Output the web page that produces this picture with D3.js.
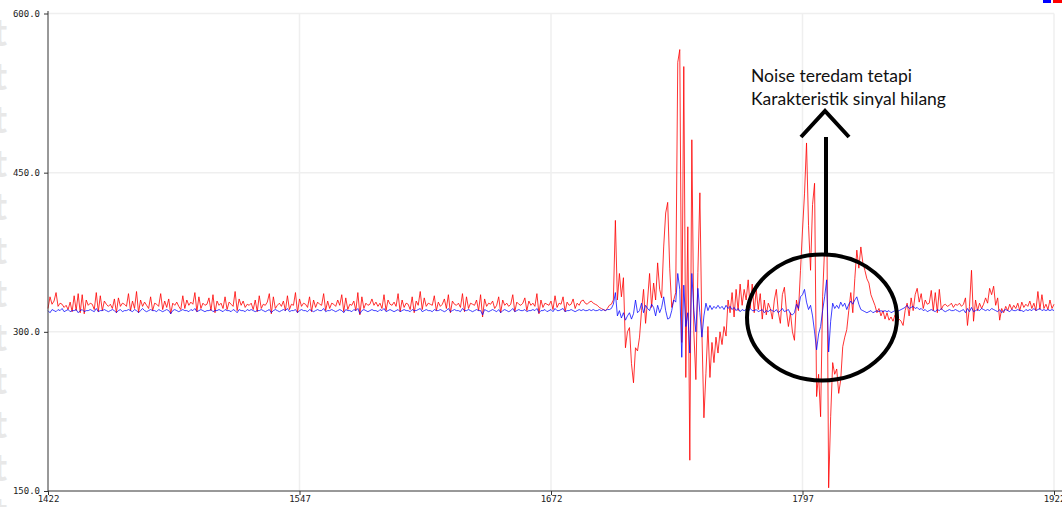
<!DOCTYPE html>
<html lang="en">
<head>
<meta charset="UTF-8">
<title>Serial Plotter - Noise teredam</title>
<script src="https://d3js.org/d3.v7.min.js"></script>
<style>
    body { margin: 0; background: #fff; }
    #chart { width: 1062px; height: 507px; overflow: hidden; }
    .tick-label { font-family: "DejaVu Sans Mono", "Liberation Mono", monospace; font-size: 9px; fill: #222; }
    .note { font-family: Lato, "Open Sans", sans-serif; font-size: 17.5px; fill: #111; }
</style>
</head>
<body>
<div id="chart"></div>
<script>
// sample range shown by the plotter
var xStart = 1422, xEnd = 1922;
var yTicks = [150, 300, 450, 600];
var xTicks = [1422, 1547, 1672, 1797, 1922];

// raw signal (red)
var redValues = [
    322, 333, 326, 329, 337, 324, 327, 326, 323, 325,
    321, 328, 319, 334, 320, 336, 318, 335, 317, 330,
    325, 327, 326, 321, 337, 319, 334, 320, 329, 326,
    324, 326, 322, 331, 318, 332, 324, 327, 326, 324,
    336, 320, 329, 322, 338, 318, 330, 324, 328, 325,
    322, 333, 320, 327, 326, 324, 336, 321, 329, 323,
    331, 317, 327, 325, 328, 324, 321, 334, 322, 330,
    325, 328, 326, 337, 319, 333, 322, 327, 325, 326,
    332, 320, 335, 318, 329, 325, 327, 322, 333, 321,
    328, 326, 324, 338, 320, 331, 325, 329, 323, 326,
    325, 327, 321, 330, 319, 334, 322, 326, 325, 328,
    336, 317, 333, 322, 325, 327, 324, 329, 320, 334,
    321, 326, 325, 337, 318, 331, 324, 327, 326, 323,
    333, 319, 330, 323, 328, 326, 325, 336, 320, 329,
    322, 327, 326, 324, 330, 325, 335, 319, 332, 321,
    326, 325, 329, 320, 337, 316, 333, 322, 327, 325,
    326, 331, 325, 328, 324, 327, 322, 335, 320, 330,
    326, 325, 328, 324, 336, 319, 330, 323, 327, 326,
    321, 333, 318, 329, 325, 338, 321, 332, 324, 327,
    326, 325, 334, 320, 328, 324, 326, 331, 322, 335,
    318, 329, 326, 325, 327, 323, 336, 319, 333, 322,
    327, 326, 325, 330, 320, 335, 314, 331, 324, 327,
    326, 329, 322, 325, 333, 318, 330, 325, 327, 324,
    326, 335, 319, 328, 326, 325, 327, 332, 320, 329,
    325, 327, 324, 336, 317, 330, 323, 327, 326, 325,
    329, 321, 334, 323, 327, 326, 333, 319, 328, 325,
    326, 331, 322, 327, 325, 329, 330, 327, 326, 328,
    329, 327, 326, 325, 323, 322, 321, 320, 322, 325,
    326, 330, 405, 330, 355, 333, 351, 285, 300, 304,
    270, 252, 285, 282, 295, 320, 340, 308, 330, 355,
    323, 346, 330, 365, 340, 332, 380, 412, 422, 360,
    323, 330, 337, 554, 566, 290, 550, 257, 399, 179,
    481, 300, 255, 356, 431, 300, 219, 261, 305, 257,
    290, 271, 295, 280, 300, 288, 305, 296, 330, 318,
    337, 314, 340, 320, 345, 325, 340, 330, 349, 322,
    345, 318, 340, 321, 336, 312, 330, 316, 327, 322,
    312, 330, 340, 318, 308, 335, 342, 320, 305, 318,
    300, 292, 330, 320, 358, 396, 430, 478, 400, 358,
    420, 440, 239, 260, 220, 333, 380, 431, 153, 220,
    271, 260, 265, 242, 255, 286, 295, 302, 320, 337,
    318, 350, 377, 360, 380, 365, 358, 350, 346, 335,
    330, 325, 318, 322, 315, 320, 312, 318, 311, 314,
    310, 316, 308, 312, 310, 306, 320, 327, 315, 332,
    320, 335, 341, 328, 336, 322, 330, 326, 327, 339,
    320, 337, 318, 340, 321, 325, 326, 324, 325, 327,
    323, 326, 325, 327, 324, 326, 332, 306, 324, 358,
    310, 330, 320, 327, 322, 326, 332, 327, 341, 335,
    343, 325, 332, 311, 322, 318, 324, 320, 326, 321,
    325, 322, 327, 320, 328, 323, 326, 324, 329, 322,
    327, 320, 338, 321, 335, 322, 326, 321, 330, 322, 326
];

// filtered signal (blue)
var blueValues = [
    320, 318, 321, 320, 319, 321, 320, 322, 319, 320,
    321, 319, 320, 320, 321, 318, 320, 321, 319, 320,
    320, 321, 320, 319, 322, 319, 320, 320, 321, 320,
    319, 320, 321, 320, 318, 320, 321, 319, 320, 320,
    321, 320, 319, 321, 320, 318, 320, 322, 320, 319,
    320, 321, 320, 320, 319, 321, 320, 319, 320, 321,
    320, 317, 320, 321, 320, 319, 320, 321, 320, 320,
    319, 321, 320, 322, 319, 320, 321, 320, 319, 320,
    320, 321, 319, 320, 320, 321, 320, 319, 321, 320,
    320, 319, 321, 320, 318, 321, 320, 320, 319, 321,
    320, 321, 320, 319, 320, 320, 321, 320, 319, 320,
    321, 318, 320, 321, 320, 319, 320, 321, 320, 322,
    319, 320, 320, 321, 318, 320, 321, 320, 320, 319,
    321, 320, 319, 320, 321, 320, 320, 322, 319, 320,
    320, 321, 320, 319, 320, 321, 320, 318, 321, 320,
    320, 319, 321, 320, 322, 317, 320, 321, 320, 319,
    320, 321, 320, 320, 319, 321, 320, 322, 319, 320,
    321, 320, 319, 320, 321, 319, 320, 321, 320, 320,
    319, 321, 320, 320, 321, 322, 319, 320, 321, 320,
    320, 319, 321, 320, 320, 321, 320, 319, 320, 322,
    319, 320, 321, 320, 320, 319, 322, 320, 320, 321,
    320, 319, 320, 321, 320, 320, 316, 321, 320, 319,
    320, 321, 320, 319, 321, 318, 320, 321, 320, 319,
    320, 322, 319, 320, 321, 320, 320, 321, 319, 320,
    320, 321, 320, 322, 318, 320, 320, 321, 319, 320,
    321, 319, 322, 320, 320, 321, 322, 319, 320, 320,
    321, 320, 319, 320, 321, 320, 321, 320, 320, 321,
    320, 321, 320, 320, 321, 320, 321, 320, 321, 321,
    322, 326, 337, 315, 320, 313, 318, 311, 315, 318,
    312, 317, 330, 318, 320, 327, 318, 325, 322, 320,
    326, 323, 315, 325, 318, 323, 333, 320, 312, 313,
    320, 330, 328, 355, 340, 276, 344, 305, 318, 280,
    355, 320, 300, 341, 318, 295, 315, 327, 320, 325,
    321, 324, 322, 325, 322, 324, 321, 325, 322, 324,
    321, 323, 320, 322, 319, 321, 320, 321, 319, 322,
    320, 320, 321, 319, 320, 321, 318, 320, 319, 321,
    320, 319, 321, 318, 320, 322, 319, 320, 321, 317,
    316, 318, 326, 322, 333, 335, 340, 328, 321, 325,
    315, 300, 283, 298, 305, 320, 333, 349, 281, 310,
    327, 322, 325, 322, 328, 324, 327, 321, 326, 329,
    326, 330, 333, 326, 321, 320, 319, 318, 319, 320,
    318, 319, 320, 319, 320, 319, 320, 319, 320, 318,
    319, 320, 319, 320, 321, 322, 323, 325, 322, 323,
    324, 322, 323, 321, 322, 320, 321, 319, 320, 321,
    320, 319, 321, 320, 322, 320, 319, 320, 321, 320,
    320, 321, 320, 319, 320, 321, 318, 322, 319, 323,
    319, 320, 321, 320, 322, 321, 320, 321, 320, 322,
    321, 320, 319, 321, 318, 320, 321, 320, 319, 321,
    320, 320, 321, 320, 320, 319, 321, 320, 321, 320,
    322, 320, 321, 322, 320, 321, 320, 321, 320, 321, 320
];

var noteLines = ["Noise teredam tetapi", "Karakteristik sinyal hilang"];

var width = 1062, height = 507;
var svg = d3.select("#chart").append("svg")
    .attr("width", width)
    .attr("height", height);

var x = d3.scaleLinear().domain([xStart, xEnd]).range([48, 1054]);
var y = d3.scaleLinear().domain([150, 600]).range([491, 13.5]);

// faint watermark glyphs on the left edge (cut by the window, as in the screenshot)
svg.append("g").selectAll("text")
    .data(d3.range(12))
    .enter().append("text")
    .attr("x", -7)
    .attr("y", function(d) { return 46 + d * 43.5; })
    .attr("font-family", "Lato, sans-serif")
    .attr("font-size", 38)
    .attr("font-weight", "bold")
    .attr("fill", "#e8e8e8")
    .text("t");

// grid
svg.append("g").selectAll("line")
    .data(yTicks.slice(1))
    .enter().append("line")
    .attr("x1", 48).attr("x2", 1054)
    .attr("y1", function(d) { return y(d); })
    .attr("y2", function(d) { return y(d); })
    .attr("stroke", "#efefef")
    .attr("stroke-width", 1.5);

svg.append("g").selectAll("line")
    .data(xTicks.slice(1))
    .enter().append("line")
    .attr("x1", function(d) { return x(d); })
    .attr("x2", function(d) { return x(d); })
    .attr("y1", 13.5).attr("y2", 491)
    .attr("stroke", "#efefef")
    .attr("stroke-width", 1.5);

// series
var line = d3.line()
    .x(function(d, i) { return x(xStart + i); })
    .y(function(d) { return y(d); });

svg.append("path")
    .datum(redValues)
    .attr("d", line)
    .attr("fill", "none")
    .attr("stroke", "#ff0000")
    .attr("stroke-opacity", 0.8)
    .attr("stroke-width", 1);

svg.append("path")
    .datum(blueValues)
    .attr("d", line)
    .attr("fill", "none")
    .attr("stroke", "#0000ff")
    .attr("stroke-opacity", 0.75)
    .attr("stroke-width", 1);

// axes
var yAxis = svg.append("g")
    .attr("transform", "translate(48,0)")
    .call(d3.axisLeft(y).tickValues(yTicks).tickSize(4).tickPadding(4)
        .tickFormat(function(d) { return d.toFixed(1); }));
yAxis.select(".domain").attr("stroke", "#333").attr("d", "M0,11V491");
yAxis.selectAll(".tick line").attr("stroke", "#333");
yAxis.selectAll(".tick text").attr("class", "tick-label").attr("font-family", null).attr("font-size", null);

var xAxis = svg.append("g")
    .attr("transform", "translate(0,491)")
    .call(d3.axisBottom(x).tickValues(xTicks).tickSize(4).tickPadding(1)
        .tickFormat(d3.format("d")));
xAxis.select(".domain").attr("stroke", "#333").attr("d", "M48,0H1062");
xAxis.selectAll(".tick line").attr("stroke", "#333");
xAxis.selectAll(".tick text").attr("class", "tick-label").attr("font-family", null).attr("font-size", null);

// legend swatches in the top right corner
svg.append("rect").attr("x", 1043).attr("y", 0).attr("width", 8).attr("height", 3).attr("fill", "#0000ff");
svg.append("rect").attr("x", 1053).attr("y", 0).attr("width", 9).attr("height", 3).attr("fill", "#ff0000");

// annotation: ellipse, arrow and note
var ann = svg.append("g").attr("fill", "none").attr("stroke", "#000").attr("stroke-width", 4);
ann.append("ellipse")
    .attr("cx", 822).attr("cy", y(313.5))
    .attr("rx", 75).attr("ry", 63);
ann.append("line")
    .attr("x1", 826).attr("x2", 826)
    .attr("y1", 137).attr("y2", 256);
ann.append("path")
    .attr("d", "M801,137L825,111L849,137")
    .attr("stroke-linejoin", "miter");

svg.append("g").selectAll("text")
    .data(noteLines)
    .enter().append("text")
    .attr("class", "note")
    .attr("x", 751)
    .attr("y", function(d, i) { return 82 + i * 23; })
    .text(function(d) { return d; });
</script>
</body>
</html>
